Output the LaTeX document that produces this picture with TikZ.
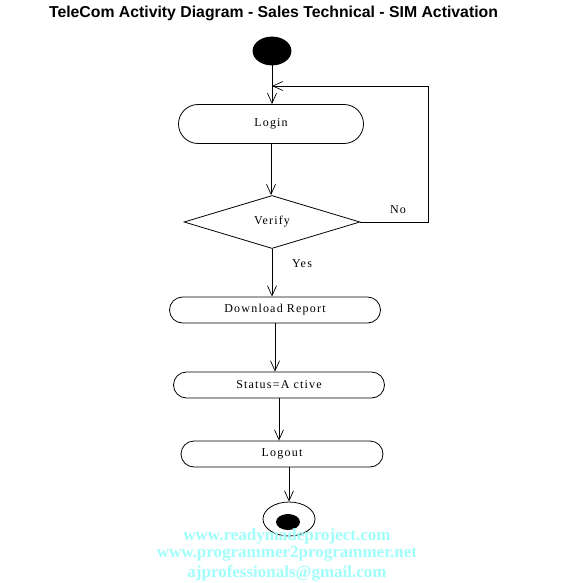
\documentclass[tikz,border=0pt]{standalone}
\usepackage{fontspec}
\setmainfont{Liberation Serif}
\newfontfamily\titlefont{Liberation Sans}
\usetikzlibrary{arrows.meta,shapes.misc,shapes.geometric}
\definecolor{wm}{RGB}{160,255,250}
\begin{document}
\begin{tikzpicture}[x=1pt,y=-1pt,
  line width=0.8pt,
  arr/.style={-{Straight Barb[length=10pt,width=9pt,line width=0.7pt]}},
  act/.style={draw,rounded rectangle,inner sep=0pt,font=\fontsize{12}{14}\selectfont\addfontfeature{LetterSpace=10}},
  lbl/.style={inner sep=0pt,font=\fontsize{12}{14}\selectfont\addfontfeature{LetterSpace=10}},
  wmtext/.style={inner sep=0pt,text=wm,font=\bfseries\fontsize{17}{19}\selectfont}
]
\useasboundingbox (0,0) rectangle (568,583);
\node[inner sep=0pt,font=\titlefont\bfseries\fontsize{15.8}{17}\selectfont] (title) at (273.5,13) {TeleCom Activity Diagram - Sales Technical - SIM Activation};
\node[draw,fill=black,ellipse,inner sep=0pt,minimum width=38pt,minimum height=28pt] (start) at (272,51) {};
\node[act,minimum width=185pt,minimum height=39pt] (login) at (271,124) {Login};
\node[draw,diamond,aspect=3.3,inner sep=0pt,minimum width=176pt,minimum height=53pt,font=\fontsize{12}{14}\selectfont\addfontfeature{LetterSpace=10}] (verify) at (272,222) {Verify};
\node[act,minimum width=211pt,minimum height=26pt] (download) at (275,310) {Download Report};
\node[act,minimum width=211pt,minimum height=26pt] (status) at (279,385) {Status=A ctive};
\node[act,minimum width=202pt,minimum height=26pt] (logout) at (282,454) {Logout};
\node[draw,ellipse,inner sep=0pt,minimum width=52pt,minimum height=34pt] (final) at (289,519) {};
\node[fill=black,ellipse,inner sep=0pt,minimum width=24pt,minimum height=16pt] (finalin) at (288,522) {};
\coordinate (c1) at (428,222);
\coordinate (c2) at (428,86);
\draw[arr] (start.south) -- (start.south |- login.north);
\draw[arr] (login.south) -- (login.south |- verify.north);
\draw[arr] (verify.south) -- (verify.south |- download.north);
\draw[arr] (download.south) -- (download.south |- status.north);
\draw[arr] (status.south) -- (status.south |- logout.north);
\draw[arr] (final.north |- logout.south) -- (final.north);
\draw[arr] (verify.east) -- (c1) -- (c2) -- (c2 -| start);
\node[lbl] (no) at (398,210) {No};
\node[lbl] (yes) at (302,264) {Yes};
\node[wmtext] (w1) at (287,536) {www.readymadeproject.com};
\node[wmtext] (w2) at (287,554) {www.programmer2programmer.net};
\node[wmtext] (w3) at (287,573) {ajprofessionals@gmail.com};
\end{tikzpicture}
\end{document}
